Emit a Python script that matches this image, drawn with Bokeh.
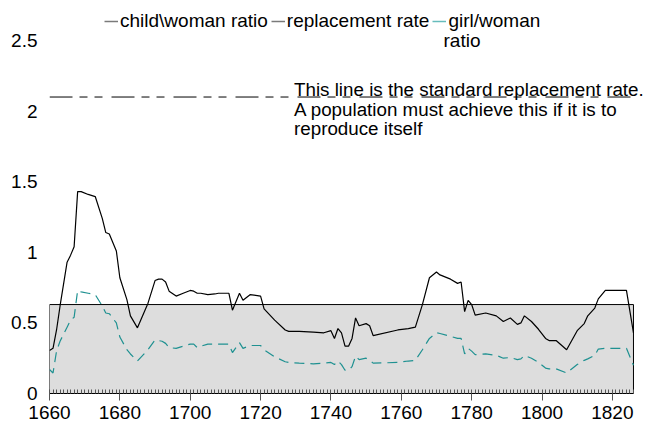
from bokeh.plotting import figure
from bokeh.models import (Range1d, SingleIntervalTicker, FixedTicker,
                          CustomJSTickFormatter, Legend, LegendItem, Label)
from bokeh.embed import file_html
from bokeh.resources import INLINE

# ---------------- data ----------------
years = [1660, 1661, 1662, 1663, 1665, 1666, 1667, 1668, 1669, 1671, 1673, 1675,
         1676, 1677, 1679, 1680, 1682, 1683, 1685, 1688, 1690, 1691, 1692, 1693,
         1694, 1696, 1698, 1700, 1701, 1702, 1703, 1705, 1707, 1708, 1711, 1712,
         1714, 1715, 1717, 1720, 1721, 1724, 1727, 1728, 1731, 1735, 1738, 1740,
         1741, 1742, 1743, 1744, 1745, 1746, 1747, 1748, 1750, 1751, 1752, 1759,
         1762, 1764, 1766, 1768, 1770, 1771, 1774, 1776, 1777, 1778, 1779, 1780,
         1781, 1784, 1787, 1789, 1791, 1793, 1794, 1795, 1797, 1799, 1801, 1802,
         1804, 1807, 1810, 1812, 1813, 1815, 1816, 1818, 1824, 1826]

child_woman = [0.305, 0.32, 0.45, 0.62, 0.93, 0.98, 1.04, 1.43, 1.43, 1.41, 1.395, 1.24,
               1.14, 1.13, 1.01, 0.82, 0.665, 0.55, 0.465, 0.64, 0.80, 0.81, 0.81, 0.79,
               0.725, 0.69, 0.71, 0.73, 0.725, 0.71, 0.71, 0.70, 0.705, 0.71, 0.71, 0.59,
               0.71, 0.66, 0.70, 0.69, 0.60, 0.52, 0.45, 0.44, 0.44, 0.435, 0.43, 0.445,
               0.39, 0.46, 0.43, 0.335, 0.335, 0.39, 0.535, 0.48, 0.495, 0.48, 0.41, 0.45,
               0.46, 0.47, 0.63, 0.82, 0.86, 0.84, 0.81, 0.78, 0.79, 0.58, 0.66, 0.63,
               0.555, 0.57, 0.55, 0.51, 0.535, 0.49, 0.50, 0.55, 0.51, 0.455, 0.39, 0.375,
               0.375, 0.31, 0.445, 0.495, 0.55, 0.605, 0.67, 0.73, 0.73, 0.43]

girl_woman = [0.17, 0.145, 0.30, 0.37, 0.47, 0.52, 0.54, 0.73, 0.72, 0.71, 0.70, 0.62,
              0.57, 0.565, 0.50, 0.40, 0.31, 0.28, 0.23, 0.31, 0.38, 0.375, 0.37, 0.355,
              0.325, 0.32, 0.335, 0.35, 0.35, 0.325, 0.335, 0.35, 0.35, 0.35, 0.35, 0.29,
              0.36, 0.32, 0.34, 0.34, 0.31, 0.26, 0.225, 0.22, 0.215, 0.21, 0.215, 0.22,
              0.205, 0.23, 0.205, 0.165, 0.165, 0.19, 0.265, 0.24, 0.25, 0.235, 0.215, 0.22,
              0.23, 0.235, 0.31, 0.39, 0.43, 0.425, 0.405, 0.39, 0.39, 0.28, 0.32, 0.30,
              0.275, 0.28, 0.27, 0.25, 0.255, 0.24, 0.245, 0.27, 0.25, 0.22, 0.18, 0.175,
              0.175, 0.145, 0.205, 0.235, 0.245, 0.27, 0.315, 0.32, 0.32, 0.20]

replacement_rate = 2.1
band_top = 0.63
y_ticks = [0, 0.5, 1, 1.5, 2, 2.5]
x_tick_interval = 20
legend_labels = ["child\\woman ratio", "replacement rate", "girl/woman"]
legend_label_wrap = "ratio"          # second line of the third legend label
note_text = ("This line is the standard replacement rate.\n"
             "A population must achieve this if it is to\n"
             "reproduce itself")
note_x = 1729.5

# ---------------- styling ----------------
FONT = "Liberation Sans"
FS = "19px"
TEAL = "#1f9191"
NAN = float("nan")

# frame spans to the right canvas edge so the note is not clipped;
# the axis itself is bounded to the data years
p = figure(width=646, height=428, output_backend="svg", toolbar_location=None,
           x_range=Range1d(years[0], 1829.7), y_range=Range1d(0, 2.727),
           min_border_left=49, min_border_right=0, min_border_top=8,
           min_border_bottom=35)
p.xgrid.grid_line_color = None
p.ygrid.grid_line_color = None
p.outline_line_color = None
p.background_fill_color = "white"

# grey band
p.quad(left=[years[0]], right=[years[-1]], bottom=[0], top=[band_top],
       fill_color="#dddddd", line_color="black", line_width=1)

# series
p.line(years, girl_woman, line_color=TEAL, line_width=1.2, line_dash="10 6")
p.line(years, child_woman, line_color="black", line_width=1.2)
p.line([years[0], years[-1]], [replacement_rate, replacement_rate],
       line_color="black", line_width=1, line_dash="23 7 8 7 8 9")

# annotation
p.add_layout(Label(x=note_x, y=2.225, text=note_text, text_font=FONT,
                   text_font_size="18.8px", text_baseline="top", text_align="left",
                   text_line_height=0.93, text_color="black"))

# legend (solid swatches, no visible data)
sw_x = [years[0], years[1]]
sw_y = [NAN, NAN]
r1 = p.line(sw_x, sw_y, line_color="#7a7a7a", line_width=1.5)
r2 = p.line(sw_x, sw_y, line_color="#7a7a7a", line_width=1.5)
r3 = p.line(sw_x, sw_y, line_color="#66bcbc", line_width=1.5)
legend = Legend(items=[LegendItem(label=legend_labels[0], renderers=[r1]),
                       LegendItem(label=legend_labels[1], renderers=[r2]),
                       LegendItem(label=legend_labels[2], renderers=[r3])],
                orientation="horizontal", location=(55, 361),
                glyph_width=14, label_standoff=2, spacing=3, padding=0, margin=0,
                border_line_color=None, background_fill_alpha=0,
                label_text_font=FONT, label_text_font_size=FS,
                label_text_color="black")
p.add_layout(legend)
p.add_layout(Label(x=1772, y=2.5, text=legend_label_wrap, text_font=FONT,
                   text_font_size=FS, text_baseline="middle", text_align="left",
                   text_color="black"))

# x axis
xa = p.xaxis[0]
xa.bounds = (years[0], years[-1])
xa.ticker = SingleIntervalTicker(interval=x_tick_interval, num_minor_ticks=20)
xa.axis_line_color = "black"
xa.major_tick_in = 0
xa.major_tick_out = 7
xa.minor_tick_in = 4
xa.minor_tick_out = 0
xa.major_tick_line_color = "#555555"
xa.minor_tick_line_color = "#555555"
xa.major_label_text_font = FONT
xa.major_label_text_font_size = FS
xa.major_label_text_color = "black"
xa.major_label_standoff = 5

# y axis
ya = p.yaxis[0]
ya.ticker = FixedTicker(ticks=y_ticks)
ya.formatter = CustomJSTickFormatter(code="return tick.toString()")
ya.axis_line_color = None
ya.major_tick_line_color = None
ya.minor_tick_line_color = None
ya.major_tick_out = 0
ya.major_tick_in = 0
ya.major_label_standoff = 12
ya.major_label_text_font = FONT
ya.major_label_text_font_size = FS
ya.major_label_text_color = "black"

open("out.html", "w").write(file_html(p, INLINE))
